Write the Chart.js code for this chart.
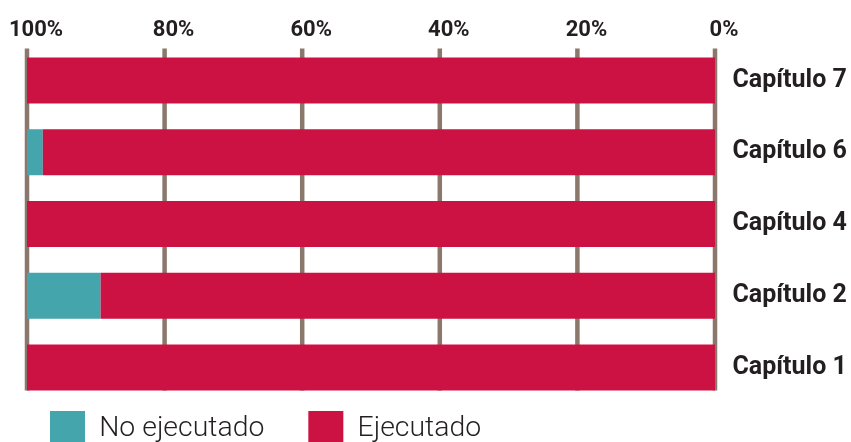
<!DOCTYPE html>
<html><head><meta charset="utf-8">
<script src="https://cdn.jsdelivr.net/npm/chart.js@4.4.1/dist/chart.umd.min.js"></script>
<style>html,body{margin:0;padding:0;background:#fff;overflow:hidden}canvas{display:block}</style>
</head><body>
<canvas id="c" width="851" height="442"></canvas>
<script>
const categories = ['Capítulo 7', 'Capítulo 6', 'Capítulo 4', 'Capítulo 2', 'Capítulo 1'];
const ejecutado = [100, 97.7, 100, 89.3, 100];
const noEjecutado = [0, 2.3, 0, 10.7, 0];
const seriesNames = ['Ejecutado', 'No ejecutado'];
const tickMin = 0, tickMax = 100, tickStep = 20;

const RED = '#cc1242', TEAL = '#45a5ad', GRID = '#8a786c', TEXT = '#231f20';

const gridPlugin = {
  id: 'customGrid',
  beforeDatasetsDraw(chart) {
    const xs = chart.scales.x, ctx = chart.ctx;
    const meta = chart.getDatasetMeta(0);
    const first = meta.data[0];
    const last = meta.data[meta.data.length - 1];
    const bottom = last.y + last.height / 2;
    const top = first.y - first.height / 2 - 9;
    ctx.save();
    ctx.strokeStyle = GRID;
    ctx.lineWidth = 4.5;
    xs.ticks.forEach(t => {
      const px = xs.getPixelForValue(t.value);
      ctx.beginPath(); ctx.moveTo(px, top); ctx.lineTo(px, bottom); ctx.stroke();
    });
    ctx.restore();
  }
};

const legendPlace = {
  id: 'legendPlace',
  afterLayout(chart) {
    const lg = chart.legend;
    const pad = lg.options.labels.padding;
    lg.left = 50 - pad;
    lg.top = 411 - pad;
  }
};

new Chart(document.getElementById('c'), {
  type: 'bar',
  data: {
    labels: categories,
    datasets: [
      { label: seriesNames[0], data: ejecutado, backgroundColor: RED, borderWidth: 0 },
      { label: seriesNames[1], data: noEjecutado, backgroundColor: TEAL, borderWidth: 0 }
    ]
  },
  options: {
    indexAxis: 'y',
    responsive: false,
    animation: false,
    devicePixelRatio: 1,
    layout: { padding: { left: 27, right: 0, top: 0, bottom: 0 } },
    datasets: { bar: { categoryPercentage: 1, barPercentage: 0.64 } },
    scales: {
      x: {
        position: 'top', reverse: true, stacked: true,
        min: tickMin, max: tickMax,
        grid: { display: false, drawTicks: false },
        border: { display: false },
        ticks: {
          stepSize: tickStep, padding: 1, labelOffset: 9, maxRotation: 0,
          color: TEXT, font: { family: 'Roboto', weight: 'bold', size: 22 },
          callback: v => v + '%'
        },
        afterFit(s) { s.height = 44.5; s.paddingLeft = 0; s.paddingRight = 0; }
      },
      y: {
        position: 'right', stacked: true,
        grid: { display: false, drawTicks: false },
        border: { display: false },
        ticks: { padding: 17.5, color: TEXT, font: { family: 'Roboto', weight: 'bold', size: 25 } },
        afterFit(s) { s.width = 136; s.paddingTop = 0; s.paddingBottom = 0; }
      }
    },
    plugins: {
      tooltip: { enabled: false },
      legend: {
        position: 'bottom', align: 'start', reverse: true, maxHeight: 38.5,
        labels: {
          boxWidth: 35, boxHeight: 35, padding: 44, color: TEXT,
          font: { family: 'Roboto', weight: '300', size: 28.4 }
        }
      }
    }
  },
  plugins: [gridPlugin, legendPlace]
});
</script>
</body></html>
